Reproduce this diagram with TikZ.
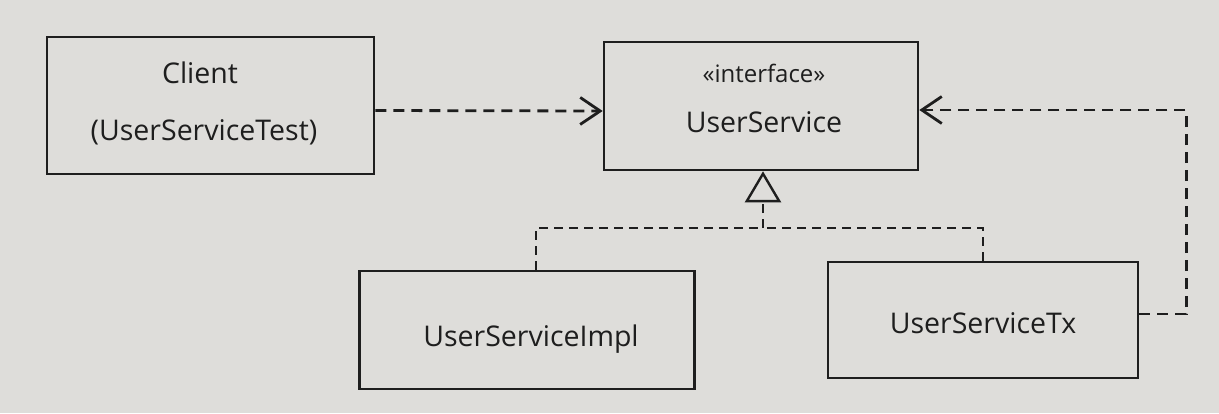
\documentclass[tikz,border=0pt]{standalone}
\usepackage{fontspec}
\setmainfont{Open Sans}
\usetikzlibrary{arrows.meta}
\definecolor{bg}{HTML}{DEDDDA}
\definecolor{ink}{HTML}{1E1E1E}
\tikzset{
  cls/.style={draw=ink, line width=2.6pt, fill=none, inner sep=0pt},
  lbl/.style={text=ink, font=\fontsize{28.5}{32}\selectfont, anchor=base, inner sep=0pt},
  stereo/.style={text=ink, font=\fontsize{24}{28}\selectfont, anchor=base, inner sep=0pt},
  dep/.style={draw=ink, line width=2.8pt, dash pattern=on 11pt off 7pt,
    -{Straight Barb[length=20pt,width=27pt,line width=2.8pt]}},
  real/.style={draw=ink, line width=2.4pt, dash pattern=on 9pt off 6pt},
  gen/.style={draw=ink, line width=2.4pt, dash pattern=on 9pt off 6pt,
    -{Triangle[open,length=31pt,width=36pt,line width=2.4pt,fill=bg]}}
}
\begin{document}
\begin{tikzpicture}[x=1pt,y=-1pt]
\fill[bg] (0,0) rectangle (1219,413);
\useasboundingbox (0,0) rectangle (1219,413);
% boxes
\node[cls, minimum width=327pt, minimum height=137pt] (client) at (210.5,105.5) {};
\node[cls, minimum width=314pt, minimum height=128pt] (us) at (761,106) {};
\node[cls, minimum width=335pt, minimum height=118pt] (impl) at (527,330) {};
\node[cls, minimum width=310pt, minimum height=116pt] (tx) at (983,320) {};
% texts
\node[lbl] (clientA) at (200,83) {Client};
\node[lbl] (clientB) at (204,140) {(UserServiceTest)};
\node[stereo] (usA) at (764,82) {«interface»};
\node[lbl] (usB) at (764,132) {UserService};
\node[lbl] (implT) at (531,346) {UserServiceImpl};
\node[lbl] (txT) at (983,333) {UserServiceTx};
% junction
\coordinate (j) at (763,228);
% connectors
\draw[dep] ([yshift=-5pt]client.east) -- ([yshift=-5pt]us.west);
\draw[dep] ([yshift=6pt]tx.east) -- ++(47,0) |- ([yshift=-4pt]us.east);
\draw[real] ([xshift=9pt]impl.north) |- (j);
\draw[real] (tx.north) |- (j);
\draw[gen] (j) -- (j |- us.south);
\end{tikzpicture}
\end{document}
